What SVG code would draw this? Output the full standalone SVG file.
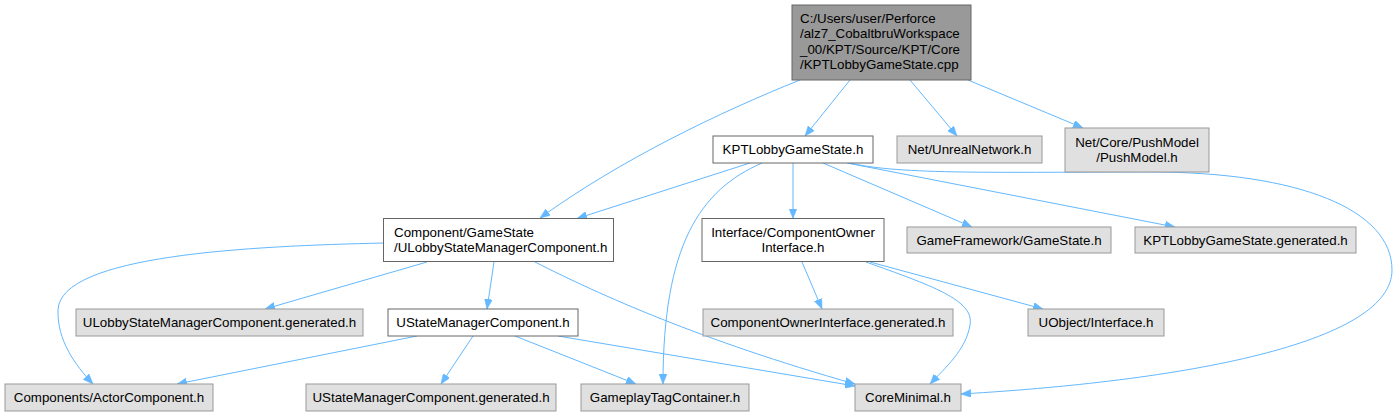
<svg xmlns="http://www.w3.org/2000/svg" width="1397" height="416" viewBox="0 0 1397 416">
<style>
text{font-family:"Liberation Sans",Arial,sans-serif;font-size:13.33px;fill:#000}
.c{text-anchor:middle}
.s{text-anchor:start}
.root rect{fill:#999999;stroke:#666666;stroke-width:1}
.mid rect{fill:#ffffff;stroke:#666666;stroke-width:1}
.leaf rect{fill:#e0e0e0;stroke:#999999;stroke-width:1}
#edges path{fill:none;stroke:#63b8ff;stroke-width:1;marker-end:url(#ah)}
</style>
<defs>
<marker id="ah" markerUnits="userSpaceOnUse" markerWidth="10" markerHeight="8" refX="10" refY="4" orient="auto" viewBox="0 0 10 8">
<path d="M0,0 L10,4 L0,8 z" fill="#63b8ff" stroke="#63b8ff" stroke-width="0.5"/>
</marker>
</defs>
<rect width="1397" height="416" fill="#ffffff"/>
<g id="edges">
<path d="M800,80 C720,112 620,160 540,218"/>
<path d="M850,80 L805,136"/>
<path d="M910,80 L957,136"/>
<path d="M968,80 L1083,128"/>
<path d="M750,163 L577,218.5"/>
<path d="M762,163 C700,190 663,245 663,384"/>
<path d="M793,163 L793,218.5"/>
<path d="M823,163 L972,227"/>
<path d="M847,163 L1175,227"/>
<path d="M850,163 C900,175 1000,172 1150,172 C1300,172 1392,210 1392,270 C1392,340 1200,380 961,394"/>
<path d="M384,243 C250,246 60,255 58,310 C57,340 75,365 93,384"/>
<path d="M427,262 L265,309"/>
<path d="M494,262 L487,309"/>
<path d="M535,262 C600,295 700,340 855,384"/>
<path d="M417,336 L177,384"/>
<path d="M473,336 L441,384"/>
<path d="M515,336 L636,384"/>
<path d="M558,336 L855,386"/>
<path d="M802,262 L822,309"/>
<path d="M870,262 L1043,309"/>
<path d="M866,262 C930,285 975,300 970,325 C966,350 945,368 930,384"/>
</g>
<g id="node_root" class="root">
<rect x="792" y="5" width="179" height="75"/>
<text class="s" x="800" y="22.5">C:/Users/user/Perforce</text>
<text class="s" x="800" y="38">/alz7_CobaltbruWorkspace</text>
<text class="s" x="800" y="53.5">_00/KPT/Source/KPT/Core</text>
<text class="s" x="800" y="69">/KPTLobbyGameState.cpp</text>
</g>
<g id="node_kpt_h" class="mid">
<rect x="713" y="136" width="160" height="27"/>
<text class="c" x="793" y="154">KPTLobbyGameState.h</text>
</g>
<g id="node_unrealnetwork" class="leaf">
<rect x="897" y="136" width="145" height="27"/>
<text class="c" x="969.5" y="154">Net/UnrealNetwork.h</text>
</g>
<g id="node_pushmodel" class="leaf">
<rect x="1065" y="128" width="144" height="44"/>
<text class="c" x="1137" y="147">Net/Core/PushModel</text>
<text class="c" x="1137" y="162">/PushModel.h</text>
</g>
<g id="node_ulobby" class="mid">
<rect x="383.5" y="218.5" width="230" height="43"/>
<text class="s" x="394" y="236.5">Component/GameState</text>
<text class="s" x="394" y="252">/ULobbyStateManagerComponent.h</text>
</g>
<g id="node_interface" class="mid">
<rect x="702" y="218.5" width="182" height="43"/>
<text class="c" x="793" y="236.5">Interface/ComponentOwner</text>
<text class="c" x="793" y="252">Interface.h</text>
</g>
<g id="node_gamestate" class="leaf">
<rect x="907" y="227" width="204" height="26"/>
<text class="c" x="1009" y="244.5">GameFramework/GameState.h</text>
</g>
<g id="node_kpt_generated" class="leaf">
<rect x="1135" y="227" width="221" height="26"/>
<text class="c" x="1245.5" y="244.5">KPTLobbyGameState.generated.h</text>
</g>
<g id="node_ulobby_generated" class="leaf">
<rect x="76" y="309" width="287" height="27"/>
<text class="c" x="219.5" y="327">ULobbyStateManagerComponent.generated.h</text>
</g>
<g id="node_ustatemanager" class="mid">
<rect x="388" y="309" width="190" height="27"/>
<text class="c" x="483" y="327">UStateManagerComponent.h</text>
</g>
<g id="node_coi_generated" class="leaf">
<rect x="703" y="309" width="250" height="27"/>
<text class="c" x="828" y="327">ComponentOwnerInterface.generated.h</text>
</g>
<g id="node_uobject_interface" class="leaf">
<rect x="1028" y="309" width="136" height="27"/>
<text class="c" x="1096" y="327">UObject/Interface.h</text>
</g>
<g id="node_actorcomponent" class="leaf">
<rect x="5" y="384" width="208" height="27"/>
<text class="c" x="109" y="402">Components/ActorComponent.h</text>
</g>
<g id="node_ustatemanager_generated" class="leaf">
<rect x="306" y="384" width="250" height="27"/>
<text class="c" x="431" y="402">UStateManagerComponent.generated.h</text>
</g>
<g id="node_gameplaytag" class="leaf">
<rect x="581" y="384" width="168" height="27"/>
<text class="c" x="665" y="402">GameplayTagContainer.h</text>
</g>
<g id="node_coreminimal" class="leaf">
<rect x="855" y="384" width="106" height="27"/>
<text class="c" x="908" y="402">CoreMinimal.h</text>
</g>
</svg>
